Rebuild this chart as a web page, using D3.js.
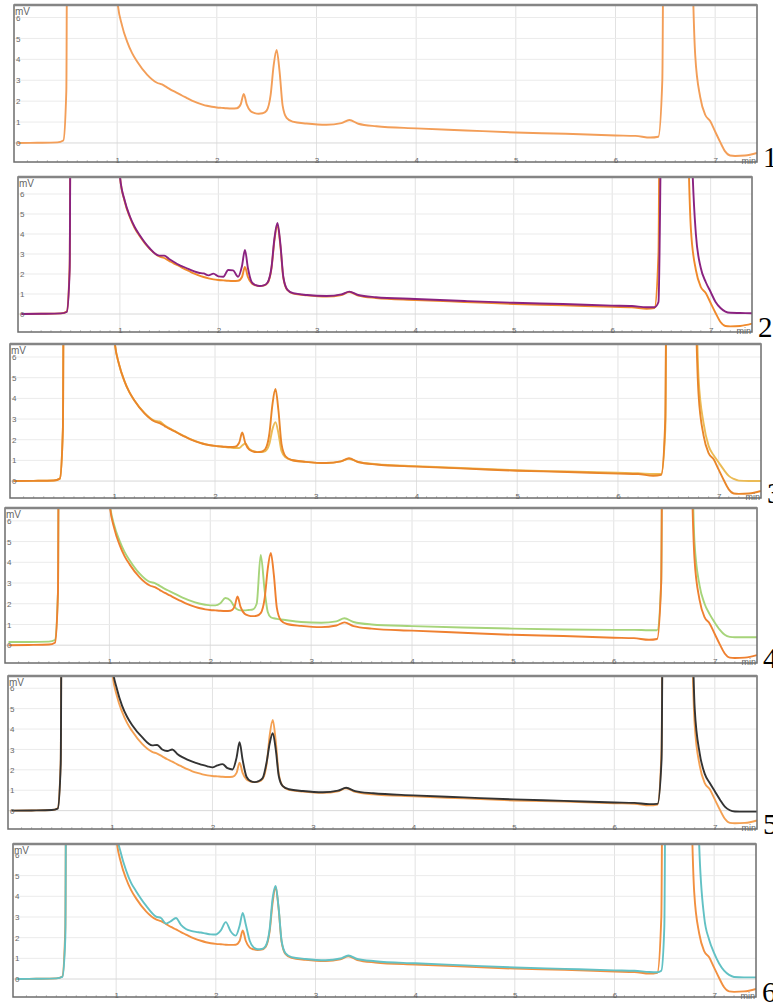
<!DOCTYPE html>
<html>
<head>
<meta charset="utf-8">
<script src="https://cdnjs.cloudflare.com/ajax/libs/d3/7.8.5/d3.min.js"></script>
<style>
  body { margin: 0; background: #fff; }
  svg text { font-family: "Liberation Sans", Arial, sans-serif; }
</style>
</head>
<body>
<script>
// retention time (min), shared by every trace
let times = [0, 0.2, 0.4, 0.46, 0.49, 0.51, 0.53, 0.96, 1.0, 1.05,
  1.1, 1.15, 1.2, 1.3, 1.4, 1.45, 1.5, 1.55, 1.6, 1.65,
  1.7, 1.75, 1.8, 1.85, 1.9, 1.95, 2.0, 2.05, 2.1, 2.15,
  2.2, 2.24, 2.27, 2.3, 2.34, 2.38, 2.42, 2.46, 2.5, 2.54,
  2.57, 2.6, 2.63, 2.66, 2.7, 2.76, 2.9, 3.1, 3.25, 3.33,
  3.42, 3.6, 4.0, 4.5, 5.0, 5.5, 6.0, 6.2, 6.35, 6.43,
  6.47, 6.5, 6.53, 6.72, 6.76, 6.8, 6.85, 6.9, 6.95, 7.0,
  7.05, 7.1, 7.15, 7.2, 7.3, 7.42];

// signal in mV (off-scale solvent peaks just written as 30)
let reference = [0, 0.01, 0.03, 0.12, 2.5, 30, 30, 30, 6.9, 5.6,
  4.85, 4.3, 3.9, 3.27, 2.88, 2.8, 2.66, 2.52, 2.4, 2.27,
  2.15, 2.03, 1.93, 1.85, 1.78, 1.73, 1.7, 1.68, 1.66, 1.65,
  1.66, 1.85, 2.35, 1.85, 1.52, 1.43, 1.4, 1.42, 1.55, 2.3,
  3.7, 4.45, 3.4, 1.8, 1.2, 1.02, 0.93, 0.87, 0.95, 1.1,
  0.92, 0.8, 0.7, 0.6, 0.5, 0.44, 0.36, 0.34, 0.26, 0.3,
  3, 30, 30, 30, 12, 4.2, 2.2, 1.35, 1.05, 0.55,
  0.05, -0.4, -0.6, -0.62, -0.6, -0.48];

let sample2 = [0, 0.01, 0.03, 0.1, 2.2, 30, 30, 30, 6.9, 5.65,
  4.9, 4.35, 3.95, 3.3, 2.92, 2.92, 2.75, 2.6, 2.46, 2.35,
  2.24, 2.14, 2.06, 2.03, 1.93, 2.02, 1.88, 1.86, 2.2, 2.18,
  1.86, 2.4, 3.2, 2.3, 1.58, 1.44, 1.4, 1.43, 1.58, 2.35,
  3.8, 4.55, 3.5, 1.85, 1.22, 1.04, 0.95, 0.9, 0.98, 1.12,
  0.95, 0.84, 0.75, 0.65, 0.56, 0.5, 0.42, 0.4, 0.34, 0.34,
  0.6, 12, 30, 30, 30, 10, 4.0, 2.3, 1.6, 1.1,
  0.6, 0.3, 0.12, 0.06, 0.05, 0.04];

let sample3 = [0, 0.01, 0.03, 0.12, 2.5, 30, 30, 30, 6.9, 5.6,
  4.85, 4.3, 3.9, 3.3, 2.92, 2.88, 2.7, 2.55, 2.42, 2.28,
  2.16, 2.04, 1.94, 1.86, 1.79, 1.74, 1.7, 1.67, 1.64, 1.62,
  1.6, 1.6, 1.72, 1.82, 1.55, 1.45, 1.4, 1.4, 1.45, 1.8,
  2.5, 2.85, 2.3, 1.45, 1.15, 1.02, 0.93, 0.87, 0.95, 1.08,
  0.92, 0.82, 0.72, 0.62, 0.52, 0.46, 0.4, 0.38, 0.34, 0.34,
  2.5, 30, 30, 30, 14, 5, 2.8, 1.7, 1.25, 0.9,
  0.55, 0.25, 0.1, 0.02, 0.0, 0.0];

let sample4 = [0.15, 0.15, 0.17, 0.25, 2.6, 30, 30, 30, 7.0, 5.75,
  5.05, 4.5, 4.1, 3.45, 3.05, 3.0, 2.86, 2.72, 2.6, 2.48,
  2.36, 2.25, 2.15, 2.07, 2.0, 1.95, 1.92, 1.92, 2.02, 2.28,
  2.15, 1.85, 1.72, 1.68, 1.68, 1.7, 1.72, 2.0, 4.35, 2.6,
  1.6, 1.35, 1.3, 1.27, 1.24, 1.2, 1.12, 1.08, 1.15, 1.3,
  1.12, 1.0, 0.92, 0.85, 0.8, 0.76, 0.74, 0.74, 0.72, 0.72,
  3, 30, 30, 30, 14, 5, 2.9, 2.0, 1.5, 1.1,
  0.75, 0.5, 0.4, 0.38, 0.38, 0.38];

let sample5 = [0, 0.01, 0.03, 0.1, 2.3, 30, 30, 30, 7.2, 5.95,
  5.15, 4.6, 4.2, 3.6, 3.2, 3.22, 3.0, 2.92, 3.0, 2.78,
  2.62, 2.5, 2.4, 2.32, 2.24, 2.17, 2.12, 2.22, 2.28, 2.08,
  2.02, 2.6, 3.35, 2.5, 1.65, 1.45, 1.4, 1.45, 1.6, 2.4,
  3.3, 3.8, 3.0, 1.7, 1.2, 1.05, 0.96, 0.9, 0.98, 1.12,
  0.96, 0.85, 0.75, 0.65, 0.55, 0.48, 0.4, 0.38, 0.32, 0.33,
  2.5, 30, 30, 30, 14, 5, 2.8, 1.8, 1.35, 0.95,
  0.55, 0.2, 0.02, -0.04, -0.05, -0.05];

let sample6 = [0, 0.01, 0.03, 0.1, 2.0, 30, 30, 30, 7.3, 6.05,
  5.25, 4.65, 4.25, 3.55, 3.02, 2.95, 2.68, 2.8, 2.95, 2.62,
  2.42, 2.33, 2.28, 2.25, 2.2, 2.16, 2.15, 2.35, 2.75, 2.3,
  2.1, 2.6, 3.2, 2.65, 1.85, 1.52, 1.44, 1.45, 1.6, 2.4,
  3.9, 4.5, 3.45, 1.85, 1.24, 1.06, 0.97, 0.91, 0.99, 1.14,
  0.97, 0.86, 0.76, 0.66, 0.56, 0.49, 0.42, 0.4, 0.34, 0.33,
  0.4, 2.5, 30, 30, 30, 30, 6.5, 3.0, 1.9, 1.25,
  0.75, 0.4, 0.2, 0.1, 0.08, 0.08];

let xTicks = [1, 2, 3, 4, 5, 6, 7];
let yTicks = [0, 1, 2, 3, 4, 5, 6];
let panelNames = ["1", "2", "3", "4", "5", "6"];

// frame of each chart [left, top, right, bottom], y range shown, traces in draw order
let panels = [
  { box: [14, 5, 757, 162], yMax: 6.6, yMin: -0.91, lines: [[reference, "#f39e58"]] },
  { box: [18, 177, 752, 332], yMax: 6.85, yMin: -0.9, lines: [[reference, "#f08a2c"], [sample2, "#8a2280"]] },
  { box: [10, 344, 761, 498], yMax: 6.63, yMin: -0.82, lines: [[sample3, "#ebbb55"], [reference, "#e9862a"]] },
  { box: [5, 508, 757, 663], yMax: 6.62, yMin: -0.86, lines: [[sample4, "#a6d47a"], [reference, "#ef8030"]] },
  { box: [8, 676, 757, 829], yMax: 6.6, yMin: -0.9, lines: [[reference, "#f4a052"], [sample5, "#333333"]] },
  { box: [13, 844, 756, 997], yMax: 6.53, yMin: -0.87, lines: [[reference, "#f29040"], [sample6, "#62c1c4"]] }
];

let svg = d3.select("body")
  .append("svg")
  .attr("width", 773)
  .attr("height", 1006);

panels.forEach((p, i) => {
  let [l, t, r, b] = p.box;

  let xScale = d3.scaleLinear()
    .domain([-0.035, 7.42])
    .range([l, r]);

  let yScale = d3.scaleLinear()
    .domain([p.yMin, p.yMax])
    .range([b, t]);

  let g = svg.append("g").attr("class", "panel");

  g.append("clipPath")
    .attr("id", "clip" + i)
    .append("rect")
    .attr("x", l).attr("y", t)
    .attr("width", r - l).attr("height", b - t);

  // grid
  g.selectAll(".vgrid")
    .data(xTicks)
    .enter().append("line")
    .attr("x1", d => xScale(d)).attr("x2", d => xScale(d))
    .attr("y1", t).attr("y2", b)
    .attr("stroke", "#e2e2e2").attr("stroke-width", 1);

  g.selectAll(".hgrid")
    .data(yTicks)
    .enter().append("line")
    .attr("x1", l).attr("x2", r)
    .attr("y1", d => yScale(d)).attr("y2", d => yScale(d))
    .attr("stroke", d => d == 0 ? "#d8d8d8" : "#ebebeb").attr("stroke-width", 1);

  // little ticks along bottom
  g.selectAll(".minor")
    .data(d3.range(1, 74))
    .enter().append("line")
    .attr("x1", d => xScale(d / 10)).attr("x2", d => xScale(d / 10))
    .attr("y1", b - 2).attr("y2", b)
    .attr("stroke", "#bbb").attr("stroke-width", 0.8);

  // traces
  let line = d3.line()
    .x(d => xScale(d[0]))
    .y(d => yScale(d[1]))
    .curve(d3.curveMonotoneX);

  p.lines.forEach(([vals, col]) => {
    g.append("path")
      .datum(times.map((tm, k) => [tm, vals[k]]))
      .attr("clip-path", "url(#clip" + i + ")")
      .attr("fill", "none")
      .attr("stroke", col)
      .attr("stroke-width", 1.9)
      .attr("stroke-linejoin", "round")
      .attr("d", line);
  });

  // frame
  g.append("rect")
    .attr("x", l).attr("y", t)
    .attr("width", r - l).attr("height", b - t)
    .attr("fill", "none")
    .attr("stroke", "#6c6c6c")
    .attr("stroke-width", 1.5);

  g.append("line")
    .attr("x1", l).attr("x2", r)
    .attr("y1", t).attr("y2", t)
    .attr("stroke", "#858585")
    .attr("stroke-width", 2.4);

  // axes labels
  let xAxis = d3.axisBottom(xScale)
    .tickValues(xTicks)
    .tickSize(0)
    .tickPadding(0)
    .tickFormat(d3.format("d"));

  g.append("g")
    .attr("transform", "translate(0," + (b - 5) + ")")
    .call(xAxis)
    .call(a => a.select(".domain").remove())
    .selectAll("text")
    .attr("font-size", 8)
    .attr("fill", "#666");

  let yAxis = d3.axisRight(yScale)
    .tickValues(yTicks)
    .tickSize(0)
    .tickPadding(0)
    .tickFormat(d3.format("d"));

  g.append("g")
    .attr("transform", "translate(" + (l + 2) + ",0)")
    .call(yAxis)
    .call(a => a.select(".domain").remove())
    .selectAll("text")
    .attr("font-size", 8)
    .attr("fill", "#666");

  g.append("text")
    .attr("x", l + 1)
    .attr("y", t + 10)
    .attr("font-size", 10)
    .attr("fill", "#666")
    .text("mV");

  g.append("text")
    .attr("x", r - 1)
    .attr("y", b + 2)
    .attr("text-anchor", "end")
    .attr("font-size", 9)
    .attr("fill", "#666")
    .text("min");

  g.append("text")
    .attr("x", r + 6)
    .attr("y", b + 5)
    .style("font-family", "'Liberation Serif', 'Times New Roman', serif")
    .attr("font-size", 29)
    .attr("fill", "#000")
    .text(panelNames[i]);
});
</script>
</body>
</html>
